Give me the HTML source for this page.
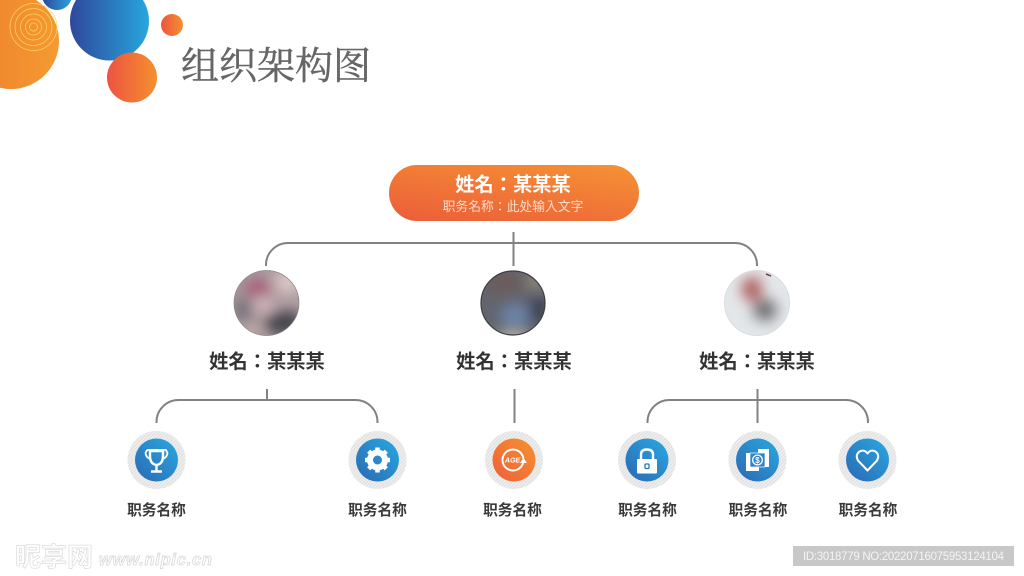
<!DOCTYPE html>
<html><head><meta charset="utf-8"><style>
html,body{margin:0;padding:0;background:#fff;width:1024px;height:576px;overflow:hidden}
svg{display:block}
.n{font-family:"Liberation Sans","Noto Sans CJK TC",sans-serif;font-weight:700;font-size:19.3px;fill:#333;text-anchor:middle}
.j{font-family:"Liberation Sans","Noto Sans CJK SC",sans-serif;font-weight:700;font-size:14.7px;fill:#3a3a3a;text-anchor:middle}
.l{fill:none;stroke:#828282;stroke-width:2}
</style></head><body>
<svg width="1024" height="576" viewBox="0 0 1024 576" xmlns="http://www.w3.org/2000/svg">
<defs>
<linearGradient id="o1" x1="0" y1="0" x2="1" y2="0"><stop offset="0" stop-color="#ee7f2e"/><stop offset="1" stop-color="#f59a30"/></linearGradient>
<linearGradient id="b1" x1="0" y1="0" x2="1" y2="0"><stop offset="0" stop-color="#2f479a"/><stop offset="1" stop-color="#27a6de"/></linearGradient>
<linearGradient id="r1" x1="0" y1="0" x2="1" y2="0"><stop offset="0" stop-color="#ec5440"/><stop offset="1" stop-color="#f5902f"/></linearGradient>
<linearGradient id="pill" x1="0.15" y1="1" x2="0.85" y2="0"><stop offset="0" stop-color="#ec6039"/><stop offset="1" stop-color="#f58f34"/></linearGradient>
<linearGradient id="ib" x1="0" y1="1" x2="1" y2="0"><stop offset="0" stop-color="#2b69b4"/><stop offset="1" stop-color="#29a9e1"/></linearGradient>
<linearGradient id="io" x1="0" y1="1" x2="1" y2="0"><stop offset="0" stop-color="#ee5f3a"/><stop offset="1" stop-color="#f6922f"/></linearGradient>
<pattern id="h" width="2.5" height="2.5" patternUnits="userSpaceOnUse" patternTransform="rotate(45)"><rect width="2.500" height="2.500" fill="#f0f0f0"/><rect width="1.200" height="2.500" fill="#e0e0e0"/></pattern>
<filter id="bl" x="-60%" y="-60%" width="220%" height="220%"><feGaussianBlur stdDeviation="7"/></filter>
<clipPath id="c1"><circle cx="266.500" cy="303" r="32.500"/></clipPath>
<clipPath id="c2"><circle cx="513" cy="303" r="32"/></clipPath>
<clipPath id="c3"><circle cx="757" cy="303" r="32.500"/></clipPath>
</defs>

<!-- top-left decoration -->
<circle cx="57" cy="-5" r="15" fill="url(#b1)"/>
<circle cx="11" cy="41" r="48" fill="url(#o1)"/>
<g fill="none" stroke="#f8d765" stroke-width="0.700"><circle cx="33.500" cy="27" r="4"/><circle cx="33.500" cy="27" r="8"/><circle cx="33.500" cy="27" r="13"/><circle cx="33.500" cy="27" r="18.500"/><circle cx="33.500" cy="27" r="23.500"/></g>
<circle cx="109.500" cy="21" r="39.500" fill="url(#b1)"/>
<circle cx="132" cy="77.500" r="25" fill="url(#r1)"/>
<circle cx="172" cy="25" r="11" fill="url(#r1)"/>
<text x="181" y="79" font-family="'Noto Serif CJK SC','Liberation Serif',serif" font-size="38" fill="#666" stroke="#666" stroke-width="0.400">组织架构图</text>

<!-- top pill -->
<rect x="389" y="165" width="250" height="56" rx="28" fill="url(#pill)"/>
<text x="513" y="191" class="n" style="fill:#fff">姓名：某某某</text>
<text x="513" y="211" text-anchor="middle" font-family="'Liberation Sans','Noto Sans CJK TC',sans-serif" font-size="12.800" fill="#fbdcc8">职务名称：此处输入文字</text>

<!-- connectors -->
<path class="l" d="M266 266V265A22 22 0 0 1 288 243H735A22 22 0 0 1 757 265V266"/>
<path class="l" d="M513.500 232V266"/>
<path class="l" d="M156.500 423V422A22 22 0 0 1 178.500 400H355.500A22 22 0 0 1 377.500 422V423"/>
<path class="l" d="M267 389V400"/>
<path class="l" d="M514.500 389V423"/>
<path class="l" d="M647.500 423V422A22 22 0 0 1 669.500 400H846A22 22 0 0 1 868 422V423"/>
<path class="l" d="M757.500 389V423"/>

<!-- avatars -->
<g clip-path="url(#c1)"><rect x="230" y="268" width="75" height="70" fill="#aa9a9e"/>
<g filter="url(#bl)"><ellipse cx="258" cy="288" rx="14" ry="9" fill="#a85a78"/><ellipse cx="288" cy="282" rx="14" ry="12" fill="#dcc8c6"/><ellipse cx="284" cy="323" rx="20" ry="12" fill="#43434c"/><ellipse cx="243" cy="310" rx="9" ry="12" fill="#6e6d74"/><ellipse cx="264" cy="305" rx="10" ry="8" fill="#d8bcc2"/><ellipse cx="250" cy="332" rx="12" ry="6" fill="#c4b0ac"/></g></g>
<circle cx="266.500" cy="303" r="32.500" fill="none" stroke="#8a8488" stroke-width="0.700"/>
<g clip-path="url(#c2)"><rect x="478" y="268" width="70" height="70" fill="#62656e"/>
<g filter="url(#bl)"><ellipse cx="505" cy="283" rx="20" ry="9" fill="#6e5a56"/><ellipse cx="515" cy="316" rx="14" ry="12" fill="#6d86ae"/><ellipse cx="538" cy="310" rx="8" ry="14" fill="#363b48"/><ellipse cx="513" cy="339" rx="18" ry="6" fill="#d6d0b0"/><ellipse cx="536" cy="281" rx="9" ry="8" fill="#98907e"/></g></g>
<circle cx="513" cy="303" r="32" fill="none" stroke="#3a3d45" stroke-width="1.200"/>
<g clip-path="url(#c3)"><rect x="722" y="268" width="70" height="70" fill="#e4e7ea"/>
<g filter="url(#bl)"><ellipse cx="752" cy="289" rx="10" ry="12" fill="#aa5452"/><ellipse cx="765" cy="310" rx="12" ry="11" fill="#6a6a6e"/></g></g>
<circle cx="757" cy="303" r="32.500" fill="none" stroke="#d8dde2" stroke-width="1"/>
<path d="M766 274l5 2" stroke="#7a4048" stroke-width="1.500"/>

<!-- names -->
<text x="267" y="368" class="n">姓名：某某某</text>
<text x="514" y="368" class="n">姓名：某某某</text>
<text x="757" y="368" class="n">姓名：某某某</text>

<!-- icon discs -->
<g fill="url(#h)"><circle cx="156.500" cy="460" r="29"/><circle cx="377.500" cy="460" r="29"/><circle cx="514" cy="460" r="29"/><circle cx="647" cy="460" r="29"/><circle cx="757.500" cy="460" r="29"/><circle cx="867.500" cy="460" r="29"/></g>
<circle cx="156.500" cy="460" r="21.500" fill="url(#ib)"/>
<circle cx="377.500" cy="460" r="21.500" fill="url(#ib)"/>
<circle cx="514" cy="460" r="21.500" fill="url(#io)"/>
<circle cx="647" cy="460" r="21.500" fill="url(#ib)"/>
<circle cx="757.500" cy="460" r="21.500" fill="url(#ib)"/>
<circle cx="867.500" cy="460" r="21.500" fill="url(#ib)"/>

<!-- trophy -->
<g fill="none" stroke="#fff" stroke-width="1.800">
<path d="M147 450H166L167.500 453Q167 458 162 459"/>
<path d="M147 450L145.500 453Q146 458 151 459"/>
<path d="M150 451V456Q150 464 156.500 465Q163 464 163 456V451Z" stroke-width="2.400"/>
<path d="M156.500 465V471M151 471.500H162" stroke-width="2.400"/>
</g>
<!-- gear -->
<g transform="translate(377.500 460)">
<circle r="7.500" fill="none" stroke="#fff" stroke-width="6"/>
<g stroke="#fff" stroke-width="4.500"><path d="M0-12.500V-8M0 12.500V8M-12.500 0H-8M12.500 0H8M-8.800-8.800L-5.700-5.700M8.800 8.800L5.700 5.700M-8.800 8.800L-5.700 5.700M8.800-8.800L5.700-5.700"/></g>
</g>
<!-- AGE -->
<circle cx="513" cy="460" r="10.500" fill="none" stroke="#fff" stroke-width="1.900"/>
<path d="M520 463l3.500-5 3.500 5z" fill="#fff"/>
<text x="512.500" y="462.500" text-anchor="middle" font-family="'Liberation Sans',sans-serif" font-weight="700" font-style="italic" font-size="7" fill="#fff">AGE</text>
<!-- lock -->
<rect x="637" y="459" width="20" height="14.500" rx="1" fill="#fff"/>
<path d="M641 459V454.500Q641 449.500 647 449.500Q653 449.500 653 454.500V459" fill="none" stroke="#fff" stroke-width="2.400"/>
<rect x="645" y="464" width="4" height="4.500" rx="1" fill="none" stroke="#2b75bc" stroke-width="1.300"/>
<!-- money -->
<rect x="746" y="453" width="13" height="18" fill="#fff"/>
<rect x="758" y="449" width="11" height="18" fill="#fff"/>
<rect x="750" y="453" width="15" height="14" fill="#2f84c8"/>
<rect x="750" y="453" width="15" height="14" fill="none" stroke="#fff" stroke-width="0.700"/>
<circle cx="757.500" cy="460" r="5.500" fill="#fff"/>
<circle cx="757.500" cy="460" r="4.200" fill="#2f84c8"/>
<text x="757.500" y="463" text-anchor="middle" font-family="'Liberation Sans',sans-serif" font-weight="700" font-size="8" fill="#fff">$</text>
<!-- heart -->
<path d="M867.500 470.500L858 460.500Q855 455 859.500 451.500Q864.500 449 867.500 453.500Q870.500 449 875.500 451.500Q880 455 877 460.500Z" fill="none" stroke="#fff" stroke-width="2" stroke-linejoin="round"/>

<!-- job labels -->
<text x="156.500" y="515" class="j">职务名称</text>
<text x="377.500" y="515" class="j">职务名称</text>
<text x="512.500" y="515" class="j">职务名称</text>
<text x="647.500" y="515" class="j">职务名称</text>
<text x="758" y="515" class="j">职务名称</text>
<text x="868" y="515" class="j">职务名称</text>

<!-- watermark -->
<text x="15" y="566" font-family="'Noto Sans CJK SC',sans-serif" font-weight="700" font-size="26" fill="#fff" stroke="#dcdcdc" stroke-width="0.700">昵享网</text>
<text x="99" y="565" font-family="'Liberation Sans',sans-serif" font-style="italic" font-weight="700" font-size="16.500" fill="#fff" stroke="#d4d4d4" stroke-width="0.700" textLength="113">www.nipic.cn</text>

<!-- id bar -->
<rect x="793" y="546" width="221" height="20" fill="#c8c8c8"/>
<text x="803" y="560" font-family="'Liberation Sans',sans-serif" font-size="11.500" fill="#f4f4f4" textLength="201">ID:3018779 NO:20220716075953124104</text>
</svg>
</body></html>
